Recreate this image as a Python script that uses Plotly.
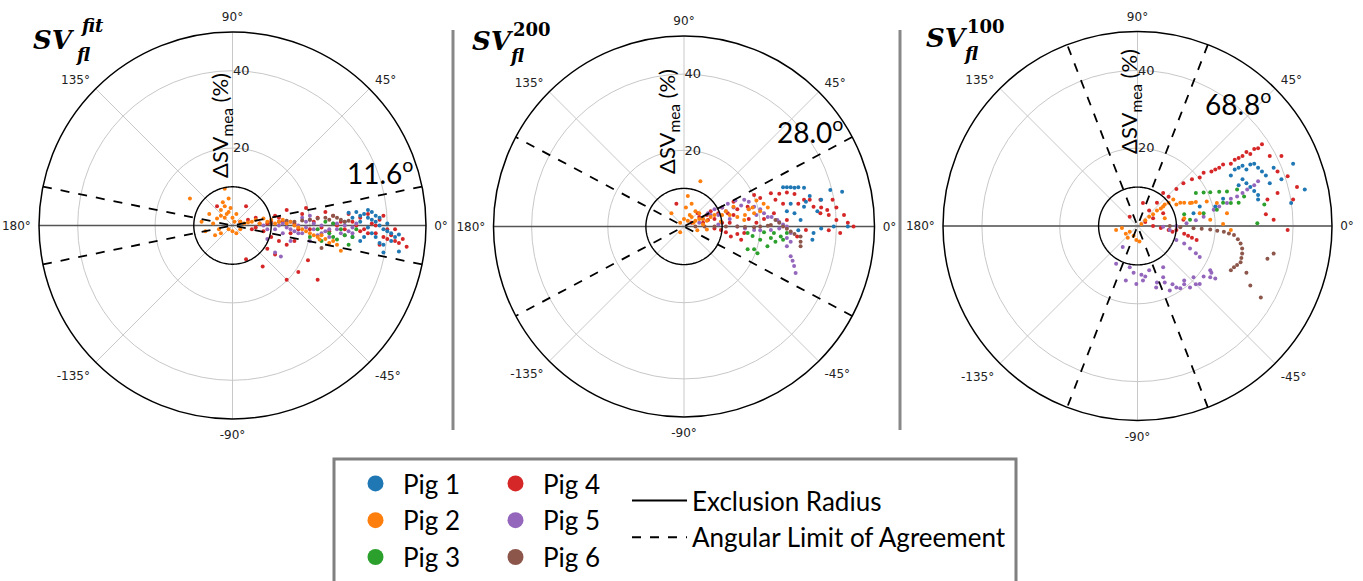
import numpy as np
import plotly.graph_objects as go

W, H = 1363, 581

PIG_NAMES = ["Pig 1", "Pig 2", "Pig 3", "Pig 4", "Pig 5", "Pig 6"]
PIG_COLORS = ["#1f77b4", "#ff7f0e", "#2ca02c", "#d62728", "#9467bd", "#8c564b"]
LIMIT_ANGLES = [11.6, 28.0, 68.8]
EXCLUSION_RADIUS = 10
R_MAX = 50
ANG_TICKS = [0, 45, 90, 135, 180, 225, 270, 315]
ANG_LABELS = ["0°", "45°", "90°", "135°", "180°", "-135°", "-90°", "-45°"]
RAD_TICKS = [20, 40]
PANEL_SUPS = ["fit", "200", "100"]

# ---- data: (x, y) components in % ----
fit_pig1 = [(30, 3.3), (32, 3.5), (33, 2.5), (34, 3), (35, 2), (36, 1.5), (37, 1), (38, 0), (39, -1), (40, -1.5),
            (41, -2), (42, -3), (43, -2.3), (36, -2), (34, -3), (33, -4), (31, -3), (39, -7), (43, -6.7),
            (38, -4.5), (35, -0.5), (37, 2.5), (29, 1), (31, 2), (33, 1), (35, 4), (36, 3.5), (38, 2), (40, 0.5),
            (41, -4), (39, -5), (37, -3)]
fit_pig2 = [(-11, 7), (-2, 9.5), (-8, 1), (-7, -1.5), (-6, 3), (-5, 0.5), (-4, 1.8), (-3.5, -1), (-3, 4), (-2.5, 6),
            (-2, 5), (-1.5, 3), (-1, 7), (-0.5, 4.5), (0, 2), (0.5, 1), (-1, -1), (0, -1.5), (1, -2), (2, -1),
            (2, 1), (3, 0.5), (-3, -2), (-4.5, -2.5), (4, 0.8), (6, 1.5), (8, 1.8), (10, 1.5), (12, 1), (14, 0.5),
            (16, 0), (18, -1), (20, -2), (22, -3), (24, -3.5), (26, -4), (28, -6.5), (22.5, -3.6), (-2, 2),
            (-1, 3.5), (-3, 2.5), (1, 3), (5, 1), (7, 0.5), (9, 1), (11, 0.5), (13, 1.5), (15, 1), (17, -0.5),
            (19, -1.5), (21, -2.5), (23, -2.5), (25, -4.5), (27, -5)]
fit_pig3 = [(20, -3), (22, -1), (24, 1), (25, -2), (26, -3), (27, -3.6), (28, -1), (29, -2.5), (30, -5), (31, -3),
            (32, -1), (26, 0.5), (23, -4)]
fit_pig4 = [(2, 1), (4, 1.5), (5, -1), (6, 2), (8, -1.5), (9, 0.5), (10, -3), (11, 2.5), (12, -4), (13, 1),
            (14, 4), (15, -2), (16, 0.5), (18, 3), (19, 4.5), (20, -1), (22, 2), (24, 3.5), (25, -1.5), (26, 2.5),
            (28, 1), (30, 3), (32, 0), (33, 2), (34, -1), (35, 3), (36, 0.5), (37, -2), (38, 1.5), (39, -3),
            (40, -1), (41, -2.5), (42, -4), (44, -3.5), (45, -5.5), (3.5, -8.7), (7.8, -10.6), (14, -14),
            (17, -12), (19.5, -9), (22, -14), (9, -6), (11, -7.5), (-4, 5), (3.5, 5), (6, -0.5), (7, 0.5),
            (10, 1), (12, 2), (17, -1), (21, 1), (23, -0.5), (27, 0), (29, -1), (31, 1), (33, -1.5), (35, -2),
            (37, 0), (39, 2.5), (40, -3.5), (42, -1), (43, -4.5), (38, -5), (14, -5), (16, -4)]
fit_pig5 = [(8, 0), (10, 0.5), (11, -1), (12, 0), (13, -2), (14, -0.5), (15, 1), (16, -1.5), (17, 0), (18, -2),
            (19, -0.5), (20, 1.5), (21, -1), (22, -2.5), (23, 0), (24, -1.5), (25, -3), (26, 0.5), (27, -1),
            (28, -2), (29, 0), (30, -1.5), (31, -0.5), (12.5, -8), (11, -7), (9, -3.5), (18, 2), (20, 2.5),
            (9, -1), (13, 0.5), (15, -1), (17, -2), (19, 1), (21, 0.5), (23, -2), (25, -1), (27, 0.5), (29, -2.5),
            (31, -2), (32, 0.5), (15, -4), (20, -4)]
fit_pig6 = [(10, 0.5), (12, 1), (14, 1.2), (16, 1), (18, 1.3), (20, 1.5), (22, 1.8), (24, 2), (25, 1.5),
            (26, 2.5), (27, 2), (28, 1.5), (29, 1), (30, 1.2), (23, -5.8)]

s200_pig1 = [(26, 10.3), (27, 10.3), (28, 10.3), (29, 10.2), (30, 10.3), (31.5, 10.2), (38.4, 9.6), (41.5, 9.1),
             (36, 7), (33, 8), (31.5, 5.2), (29, 3.5), (30.6, 1.7), (33.7, -3.5), (34, -1.7), (39.3, 0), (43, 0),
             (35, 4), (32, 6.5), (28, 6), (27, 4), (36, -0.5), (30, -1)]
s200_pig2 = [(-3.3, 3.5), (-1, 1), (0, 2), (0.5, 5), (1, 8), (1.5, 3), (2, 6), (2.5, 1), (3, 4), (3.5, -1),
             (4.3, 11.9), (4, 2), (5, 0.5), (6, -0.8), (7, 2.5), (9.7, 1.3), (11, 4), (13, 5.2), (14, 2.5),
             (15.8, 1.7), (17, 4.5), (18.4, 3.5), (19, 6.8), (20.9, 6), (22, 5), (-1, -1.5), (1, 1.5), (2, 2.5),
             (3, 1.5), (4, 3.5), (5, 2), (6, 1.5), (8, 3), (10, 3), (12, 3), (16, 3), (18, 5), (20, 4)]
s200_pig3 = [(16.7, -1.7), (18.4, -6), (16.7, -6), (21.9, -5.2), (23.6, -1.7), (27, -1.7), (20, -3.5), (22.8, -3),
             (25.4, -2.6), (19.3, -7), (24, -4), (26, -3.5), (21, -1.5), (18, -2.5)]
s200_pig4 = [(2, 1), (3.6, 3.5), (5, 1), (6.3, 1.7), (7, 4), (8, -0.5), (9.7, -0.9), (10, 5), (11.5, 3.5),
             (12.3, -2.6), (13, 6.5), (15, -3.5), (15.8, -1.7), (16.7, 5.2), (18.4, 8.3), (20, 7.5), (22.8, 8.7),
             (23.6, 3.5), (25, 8.6), (27, 8.9), (27, 1.7), (29, 8.5), (29.7, -2.6), (31.5, 7), (32, -0.9), (34, 5.2),
             (35.8, 3.5), (35.8, 7), (37.6, 4.3), (39, 7), (40, 1.7), (41, -1.7), (42, 3), (44.5, 0), (38, -1),
             (-2, 6), (4, 2.5), (6, 3), (8, 2), (9, 3.5), (10, 1), (11, -1.5), (12, 1), (13, 3), (14, -2),
             (14, 4.5), (17, 2), (19, 1), (21, 2), (24, 7), (26, 6), (30, 6), (33, 7), (36, 5), (38, 3), (43, 1),
             (40, 5)]
s200_pig5 = [(4, 1), (6.3, 3.5), (8, 4.5), (10, 5), (11.5, 6), (13.5, 6.8), (15.8, 7), (17, 6.5), (18.4, 5.2),
             (19, 3), (21, 3.5), (22, 2.5), (24.5, 1.7), (26, 0.5), (27, 0), (28, -1.7), (27, -3), (27, -5.2),
             (28, -7.8), (28.9, -10.4), (29.3, -12.2), (14, 0), (16, -0.5), (18.4, -0.9), (20, -1), (22.8, -0.9),
             (25, -0.5), (12, 2), (9, 0.5), (5, 2), (7, 3), (9, 3), (11, 4), (13, 5), (15, 5.5), (17, 4.5),
             (20, 4.5), (23, 2.5), (25, 1.2), (28, -4), (28.5, -9)]
s200_pig6 = [(3, 0), (5.4, 0), (8, 0), (11, 0), (14, 0), (16, -0.1), (18.4, -0.2), (20, 0), (22, 0.2), (22.8, 0.4),
             (24, 1.7), (25, 1), (26, 0), (27, -0.6), (28, -1.3), (29, -2), (30.6, -2.6), (30.6, -4), (30.6, -5.2)]

s100_pig1 = [(24, 13), (25, 14.5), (26, 15), (27, 15.5), (28, 14.5), (29, 15.8), (30, 16), (31, 15), (32, 14),
             (33, 13), (27, 12), (28, 11), (29, 10), (30, 9), (31, 8), (26, 10.5), (40, 16), (43, 9.4),
             (39.5, 5.9), (34, 11), (31, 6.8), (16, 5), (14.4, 3.3), (20, 5), (22, 7), (35, 15), (37, 12)]
s100_pig2 = [(-5.5, -1), (-4, -0.5), (-3, -2), (-2, -1.5), (-0.3, -3.6), (0.5, -4), (1, 0.5), (3, 2.4), (5, 4),
             (6.6, 5), (8, 6), (9.2, 6.8), (11, 6), (13.5, 5.9), (16, 3.3), (17.8, 6.3), (18.7, 1.6), (20.4, 5.9),
             (23, 3.3), (24, -1), (22, 0.5), (12, 2), (7, 2), (2, 1.5), (4, 3), (6, 4.5), (7, 5.5), (10, 5.5),
             (12, 6), (14, 6), (15, 6.2), (-1, -2.5), (-2.5, -3)]
s100_pig3 = [(15, 8.5), (17, 8.6), (18.7, 8.7), (21, 8.8), (23, 8.9), (25.6, 9.4), (27.4, 7.6), (24, 5.9),
             (20.4, 4.2), (17, 3.3), (13.5, 1.6), (30.8, 0.7), (32.6, 5.5), (26, 6), (22, 6), (12, 3)]
s100_pig4 = [(1.4, 5.9), (-2, 2.4), (2, 1), (4, 2), (6.6, 3.3), (6.6, 8.5), (8, -1), (10, -1), (11.8, 11),
             (11.8, 1.6), (12, -2), (14, -3), (15.2, -3.6), (17, 13.7), (20, 14.5), (22, 15.8), (25, 17), (27, 18),
             (28, 19), (30, 19.8), (32, 21), (34, 18), (35, 1.6), (36, 8.5), (37, 18), (33.4, 6.8), (38.6, 12.8),
             (40, 6.8), (38.6, -1), (41, 10), (36, 14), (33, 3), (3, 4), (5, 6), (8, 7.5), (10, 9.5), (14, 12),
             (16, 12.5), (19, 14), (21, 15), (24, 16), (26, 17.5), (29, 18.5), (31, 20), (4, 0), (6, -0.5),
             (9, -1.5), (13, -2.5)]
s100_pig5 = [(28.2, 9.4), (27, 8.5), (25.6, 7.6), (24, 7), (23, 5.9), (21, 5), (19.6, 4.2), (17, 2.4), (15, 1.5),
             (12.6, 0.7), (10, 0), (8.3, -1), (6.6, -0.2), (10, -3.6), (12, -4.5), (13.5, -5.8), (15, -7), (16, -8),
             (-3.8, -5.4), (-2, -10.6), (-3, -14), (1.4, -14), (3, -11.4), (6.6, -13.2), (10, -15.8), (13.5, -15.8),
             (16, -14.9), (18.7, -13.2), (18.7, -11.4), (14.4, -13.2), (8.3, -16.6), (4.8, -15.8), (-0.3, -14.9),
             (-5.5, -9.7), (6.6, -10.6), (12, -14), (-1, -12), (30, 10.5), (31, 11.5), (1, -12.5), (2, -13),
             (5, -14.5), (7, -14.5), (9, -15), (11, -16), (12, -15), (15, -15), (17, -13), (19, -12), (20, -13.5)]
s100_pig6 = [(8.3, 0), (11, -0.3), (14.4, -0.6), (16.5, -0.7), (18.7, -0.9), (20.5, -1.2), (22.2, -1.5),
             (23.5, -1.9), (24.8, -2.3), (25.8, -3.4), (26.5, -4.5), (26.9, -5.8), (26.9, -7.1), (26.7, -8.2),
             (26.5, -9.3), (25.6, -10), (24.8, -10.6), (24, -11.4), (29, -15.3), (31.7, -18.4), (33.4, -8.4),
             (35, -7.1), (28, -12)]

PANEL_DATA = [
    [fit_pig1, fit_pig2, fit_pig3, fit_pig4, fit_pig5, fit_pig6],
    [s200_pig1, s200_pig2, s200_pig3, s200_pig4, s200_pig5, s200_pig6],
    [s100_pig1, s100_pig2, s100_pig3, s100_pig4, s100_pig5, s100_pig6],
]

# ---- layout geometry (pixels) ----
POLAR_BOX = [(38, 427, 32, 419), (493, 875, 36, 417), (942, 1333, 31.5, 420.5)]


def px(x):
    return x / W


def py(y):
    return 1 - y / H


fig = go.Figure()
subplots = ["polar", "polar2", "polar3"]
draw_order = [3, 0, 4, 2, 5, 1]

for i, sp in enumerate(subplots):
    fig.add_trace(go.Scatterpolar(r=[R_MAX, 0, R_MAX], theta=[0, 0, 180], mode="lines",
                                  line=dict(color="#555555", width=1.4), subplot=sp,
                                  showlegend=False, hoverinfo="skip"))
    for k in draw_order:
        pts = np.array(PANEL_DATA[i][k], dtype=float)
        r = np.hypot(pts[:, 0], pts[:, 1])
        th = np.degrees(np.arctan2(pts[:, 1], pts[:, 0]))
        fig.add_trace(go.Scatterpolar(r=r, theta=th, mode="markers",
                                      marker=dict(color=PIG_COLORS[k], size=4, line=dict(width=0)),
                                      subplot=sp, showlegend=False, name=PIG_NAMES[k]))
    circ_t = np.linspace(0, 360, 241)
    fig.add_trace(go.Scatterpolar(r=np.full_like(circ_t, EXCLUSION_RADIUS), theta=circ_t, mode="lines",
                                  line=dict(color="black", width=1.4), subplot=sp,
                                  showlegend=False, hoverinfo="skip"))
    a = LIMIT_ANGLES[i]
    for ang in (a, -a):
        fig.add_trace(go.Scatterpolar(r=[R_MAX, 0, R_MAX], theta=[ang, ang, ang + 180], mode="lines",
                                      line=dict(color="black", width=1.8, dash="dash"), subplot=sp,
                                      showlegend=False, hoverinfo="skip"))

# legend-only traces
for k in range(6):
    fig.add_trace(go.Scatterpolar(r=[None], theta=[None], mode="markers", name=PIG_NAMES[k],
                                  marker=dict(color=PIG_COLORS[k], size=16),
                                  legend="legend" if k < 3 else "legend2", subplot="polar"))
fig.add_trace(go.Scatterpolar(r=[None], theta=[None], mode="lines", name="Exclusion Radius",
                              line=dict(color="black", width=2), legend="legend3", subplot="polar"))
fig.add_trace(go.Scatterpolar(r=[None], theta=[None], mode="lines", name="Angular Limit of Agreement",
                              line=dict(color="black", width=2, dash="dash"), legend="legend3", subplot="polar"))

polar_layout = {}
for i, sp in enumerate(subplots):
    x0, x1, y0, y1 = POLAR_BOX[i]
    polar_layout[sp] = dict(
        domain=dict(x=[px(x0), px(x1)], y=[py(y1), py(y0)]),
        bgcolor="white",
        angularaxis=dict(rotation=0, direction="counterclockwise", tickmode="array",
                         tickvals=ANG_TICKS, ticktext=ANG_LABELS, showline=True,
                         linecolor="black", linewidth=1.5, gridcolor="#c8c8c8", gridwidth=1,
                         ticks="outside", ticklen=5, tickcolor="rgba(0,0,0,0)",
                         tickfont=dict(family="DejaVu Sans", size=12, color="#222")),
        radialaxis=dict(range=[0, R_MAX], tickmode="array", tickvals=RAD_TICKS, angle=90, tickangle=90,
                        showline=False, gridcolor="#c8c8c8", gridwidth=1, ticks="",
                        tickfont=dict(family="DejaVu Sans", size=13, color="#222")),
    )

legend_font = dict(family="Lato", size=26, color="black")
fig.update_layout(
    width=W, height=H, margin=dict(l=0, r=0, t=0, b=0),
    paper_bgcolor="white", plot_bgcolor="white",
    **polar_layout,
    legend=dict(x=px(348), y=py(460), xanchor="left", yanchor="top", font=legend_font,
                bgcolor="rgba(0,0,0,0)", itemwidth=45),
    legend2=dict(x=px(488), y=py(460), xanchor="left", yanchor="top", font=legend_font,
                 bgcolor="rgba(0,0,0,0)", itemwidth=45),
    legend3=dict(x=px(627), y=py(477), xanchor="left", yanchor="top", font=legend_font,
                 bgcolor="rgba(0,0,0,0)", itemwidth=55),
)

for xs in (453, 900):
    fig.add_shape(type="line", xref="paper", yref="paper", x0=px(xs), x1=px(xs), y0=py(30), y1=py(430),
                  line=dict(color="#888888", width=3))
fig.add_shape(type="rect", xref="paper", yref="paper", x0=px(334), x1=px(1016), y0=py(459), y1=py(600),
              line=dict(color="#808080", width=3))

# titles
TITLE_POS = [(31, 40, 78, 26, 73, 54), (470, 41, 511, 29, 507, 55), (924, 38, 965, 27, 961, 53)]
SUP_STYLE = ["italic", "normal", "normal"]
for i in range(3):
    sx, sy, ux, uy, bx, by = TITLE_POS[i]
    fig.add_annotation(x=px(sx), y=py(sy), xref="paper", yref="paper", xanchor="left", yanchor="middle",
                       text="SV", showarrow=False,
                       font=dict(family="DejaVu Serif", size=26, color="black", weight="bold", style="italic"))
    fig.add_annotation(x=px(ux), y=py(uy), xref="paper", yref="paper", xanchor="left", yanchor="middle",
                       text=PANEL_SUPS[i], showarrow=False,
                       font=dict(family="DejaVu Serif", size=18, color="black", weight="bold",
                                 style=SUP_STYLE[i]))
    fig.add_annotation(x=px(bx), y=py(by), xref="paper", yref="paper", xanchor="left", yanchor="middle",
                       text="fl", showarrow=False,
                       font=dict(family="DejaVu Serif", size=18, color="black", weight="bold", style="italic"))

LIMIT_POS = [(380, 172), (810, 130), (1238, 103)]
for i, (lx, ly) in enumerate(LIMIT_POS):
    fig.add_annotation(x=px(lx), y=py(ly), xref="paper", yref="paper", xanchor="center", yanchor="middle",
                       text=f"{LIMIT_ANGLES[i]:.1f}<sup>o</sup>", showarrow=False,
                       font=dict(family="Lato", size=28, color="black"))

RT_POS = [(221, 126), (668, 122), (1130, 102)]
for (tx, ty) in RT_POS:
    fig.add_annotation(x=px(tx), y=py(ty), xref="paper", yref="paper", xanchor="center", yanchor="middle",
                       text="ΔSV<sub>mea</sub> (%)", textangle=-90, showarrow=False,
                       font=dict(family="Lato", size=22, color="black"))

fig.write_html("out.html")
